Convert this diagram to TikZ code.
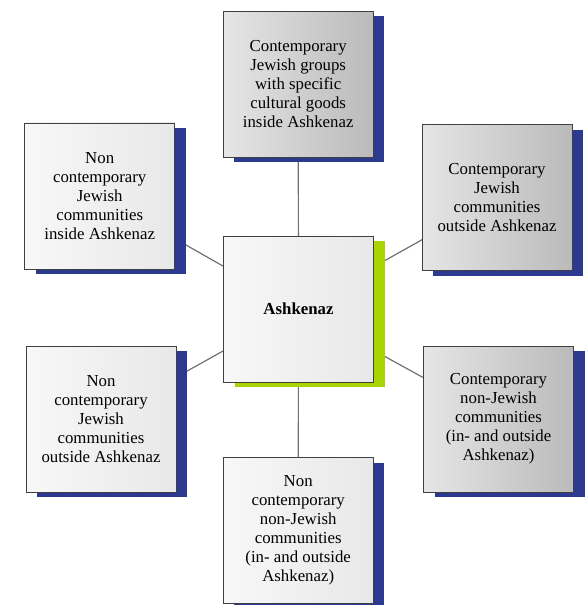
\documentclass[tikz,border=0pt]{standalone}
\usepackage{fontspec}
\setmainfont{Liberation Serif}
\usetikzlibrary{shadows,backgrounds}

\definecolor{shadowblue}{RGB}{43,57,144}
\definecolor{ashgreen}{RGB}{170,212,0}
\definecolor{linkgray}{RGB}{112,112,112}

\begin{document}
\begin{tikzpicture}[x=1pt,y=-1pt,
	box/.style={draw=black!75, line width=0.8pt, minimum width=150pt, minimum height=146pt,
		align=center, inner sep=0pt, font=\fontsize{16.8}{19}\selectfont,
		general shadow={fill=shadowblue, shadow xshift=11pt, shadow yshift=-5pt}},
	nowbox/.style={box, left color=black!10, right color=black!27},
	oldbox/.style={box, left color=black!3, right color=black!9},
	link/.style={draw=linkgray, line width=1.2pt}]
	
	\useasboundingbox (0,0) rectangle (585,605);
	
	% centre
	\node[oldbox, general shadow={fill=ashgreen, shadow xshift=11pt, shadow yshift=-5pt}] (ash) at (298.5,309) {\textbf{Ashkenaz}};
	
	% contemporary groups
	\node[nowbox] (groups) at (298.2,84.4) {Contemporary\\Jewish groups\\with specific\\cultural goods\\inside Ashkenaz};
	\node[nowbox] (nowout) at (497,197.7) {Contemporary\\Jewish\\communities\\outside Ashkenaz};
	\node[nowbox] (nownon) at (498.5,419) {Contemporary\\non-Jewish\\communities\\(in- and outside\\Ashkenaz)};
	
	% non contemporary groups
	\node[oldbox] (oldin) at (99.7,195.9) {Non\\contemporary\\Jewish\\communities\\inside Ashkenaz};
	\node[oldbox] (oldout) at (101,419) {Non\\contemporary\\Jewish\\communities\\outside Ashkenaz};
	\node[oldbox] (oldnon) at (298.2,530.5) {Non\\contemporary\\non-Jewish\\communities\\(in- and outside\\Ashkenaz)};
	
	\begin{pgfonlayer}{background}
		\foreach \n in {groups,nowout,nownon,oldin,oldout,oldnon}
			\draw[link] (ash.center) -- (\n.center);
	\end{pgfonlayer}
	
\end{tikzpicture}
\end{document}
